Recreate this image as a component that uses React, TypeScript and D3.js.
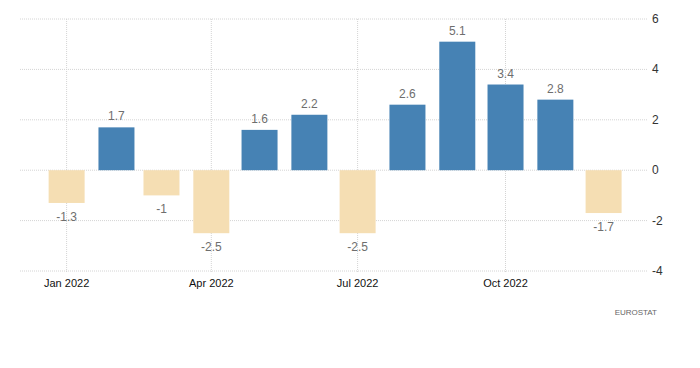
import * as d3 from "d3";
import * as React from "react";

// monthly change, 2022
const months = ["2022-01", "2022-02", "2022-03", "2022-04", "2022-05", "2022-06", "2022-07", "2022-08", "2022-09", "2022-10", "2022-11", "2022-12"];
const values = [-1.3, 1.7, -1, -2.5, 1.6, 2.2, -2.5, 2.6, 5.1, 3.4, 2.8, -1.7];
const yTicks = [-4, -2, 0, 2, 4, 6];
const xTickMonths = ["2022-01", "2022-04", "2022-07", "2022-10"];
const source = "EUROSTAT";

const parse = d3.timeParse("%Y-%m");
const fmt = d3.timeFormat("%b %Y");

export default function App() {
  const width = 700, height = 368;
  const left = 20, right = 647, top = 19, bottom = 271;
  const barW = 36;
  const font = "Tahoma, 'Liberation Sans', Arial, sans-serif";

  const x = d3.scaleTime()
    .domain([new Date(2021, 11, 3), new Date(2022, 11, 28)])
    .range([left, right]);
  const y = d3.scaleLinear().domain([-4, 6]).range([bottom, top]);

  const bars = values.map((v, i) => {
    const cx = x(parse(months[i]));
    const y0 = y(0), y1 = y(v);
    return <g key={"bar_" + i}>
      <rect x={cx - barW / 2} y={Math.min(y0, y1)} width={barW} height={Math.abs(y1 - y0)}
        fill={v >= 0 ? "#4682b4" : "#f5deb3"} />
      <text x={cx} y={v >= 0 ? y1 - 7 : y1 + 18} textAnchor="middle" fontSize={12}
        fill="#6e6e6e" fontFamily={font}>{String(v)}</text>
    </g>;
  });

  return (
    <svg width={width} height={height} style={{ position: "absolute", left: 0, top: 0, background: "#fff" }}>
      {yTicks.map(t => <g key={"y" + t}>
        <line x1={left} x2={right} y1={y(t)} y2={y(t)} stroke="#d4d4d4" strokeDasharray="1 1" />
        <text x={652} y={y(t) + 4} fontSize={12} fill="#333" fontFamily={font}>{t}</text>
      </g>)}
      {xTickMonths.map(m => {
        const d = parse(m);
        return <g key={"x" + m}>
          <line x1={x(d)} x2={x(d)} y1={top} y2={bottom + 2} stroke="#d4d4d4" strokeDasharray="1 1" />
          <text x={x(d)} y={287} textAnchor="middle" fontSize={11} fill="#111" fontFamily={font}>{fmt(d)}</text>
        </g>;
      })}
      {bars}
      <text x={657} y={315} textAnchor="end" fontSize={8} fill="#666" fontFamily={font}>{source}</text>
    </svg>
  );
}
